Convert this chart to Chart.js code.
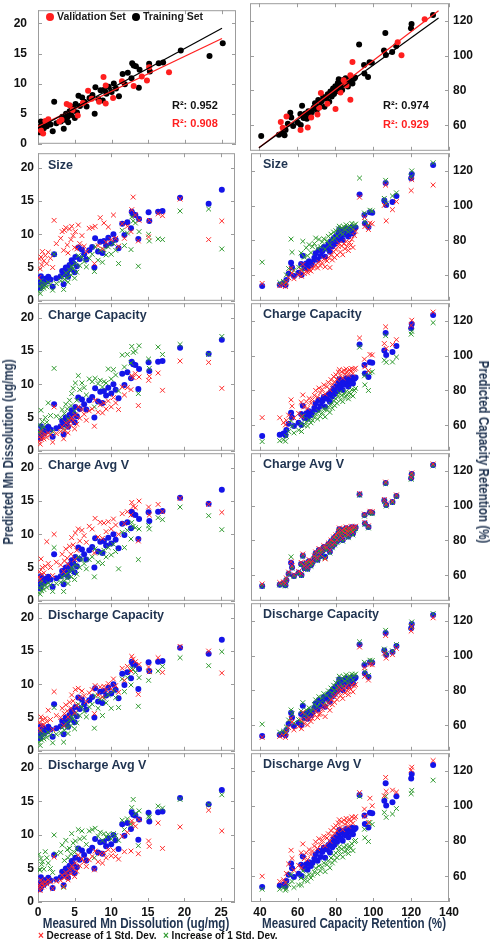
<!DOCTYPE html>
<html>
<head>
<meta charset="utf-8">
<script src="https://cdn.jsdelivr.net/npm/chart.js@4.4.1/dist/chart.umd.min.js"></script>
<style>
  body { margin: 0; background: #fff; }
  #fig { position: relative; width: 492px; height: 945px; overflow: hidden;
         font-family: "Liberation Sans", Arial, sans-serif; font-weight: bold; }
  #fig canvas { position: absolute; }
  .lbl { position: absolute; white-space: nowrap; line-height: 1; }
  .navy { color: #1f3350; }
  .ptitle { font-size: 12.5px; }
  .axtitle { font-size: 14px; }
  .dot { display: inline-block; width: 8px; height: 8px; border-radius: 50%; vertical-align: -1px; margin-right: 3px; }
</style>
</head>
<body>
<div id="fig">
  <div class="lbl" style="left:46px; top:11px; font-size:10.5px; color:#1a1a1a;"><span class="dot" style="background:#ff1f1f"></span>Validation Set</div>
  <div class="lbl" style="left:132px; top:11px; font-size:10.5px; color:#1a1a1a;"><span class="dot" style="background:#000"></span>Training Set</div>
  <div class="lbl" style="left:172px; top:100px; font-size:11px; color:#111;">R²: 0.952</div>
  <div class="lbl" style="left:172px; top:118px; font-size:11px; color:#ff1f1f;">R²: 0.908</div>
  <div class="lbl" style="left:383px; top:100px; font-size:11px; color:#111;">R²: 0.974</div>
  <div class="lbl" style="left:383px; top:119px; font-size:11px; color:#ff1f1f;">R²: 0.929</div>

  <div class="lbl navy axtitle" style="left:8px; top:452px; transform: translate(-50%,-50%) rotate(-90deg) scaleX(0.83);">Predicted Mn Dissolution (ug/mg)</div>
  <div class="lbl navy axtitle" style="left:484px; top:452px; transform: translate(-50%,-50%) rotate(90deg) scaleX(0.83);">Predicted Capacity Retention (%)</div>
  <div class="lbl navy axtitle" style="left:136px; top:923px; transform: translate(-50%,-50%) scaleX(0.83);">Measured Mn Dissolution (ug/mg)</div>
  <div class="lbl navy axtitle" style="left:354px; top:923px; transform: translate(-50%,-50%) scaleX(0.83);">Measured Capacity Retention (%)</div>

  <div class="lbl" style="left:38px; top:931px; font-size:10px; color:#111;"><span style="color:#ff2a2a">×</span> Decrease of 1 Std. Dev.</div>
  <div class="lbl" style="left:163px; top:931px; font-size:10px; color:#111;"><span style="color:#2f9a2f">×</span> Increase of 1 Std. Dev.</div>
</div>
<script>
// ---------- data: Mn dissolution (left column) ----------
const mnTrainX = [0.1,0.2,0.3,0.4,0.5,0.6,0.8,1.0,1.2,1.4, 1.7,2.0,2.2,2.5,3.1,3.3,3.5,3.6,3.8,4.0,
  4.1,4.3,4.5,4.6,4.8,5.0,5.1,5.3,5.5,5.7, 6.0,6.3,6.6,7.0,7.4,7.7,7.8,8.2,8.5,8.8,
  9.0,9.3,9.6,10.0,10.3,10.6,11.0,11.5,11.8,12.2, 12.7,12.8,13.0,13.3,13.7,13.8,15.1,15.2,16.4,17.0,
  19.4,23.3,25.1];
const mnTrainY = [2.0,2.8,1.9,3.7,2.4,3.1,2.6,3.3,2.9,3.6, 3.2,2.1,7.0,3.4,3.7,4.5,2.5,4.0,5.0,4.4,
  3.6,5.4,4.8,6.1,5.7,4.3,6.6,5.2,8.0,6.3, 7.7,7.0,6.2,7.6,8.1,5.0,9.4,7.4,8.9,7.2,
  9.0,8.3,9.5,8.6,10.0,9.2,7.9,11.6,9.9,11.8, 10.9,13.4,13.0,12.9,9.3,12.3,13.3,12.0,13.4,13.5,
  15.5,14.6,16.7];
const mnValX = [0.4,0.7,1.0,1.4,2.9,3.2,3.9,4.3,4.7,5.4,6.1,6.8,7.3,8.3,8.9,9.2,9.2,10.2,11.4,13.0,14.1,14.8,15.1,17.8];
const mnValY = [2.2,1.7,3.8,4.1,3.7,4.0,6.6,6.4,5.6,4.7,6.8,8.8,7.5,7.0,11.1,9.7,6.7,7.6,10.4,9.6,11.2,10.5,12.7,11.9];
const mnFitX = [0, 25];
const mnFitTrainY = [2.6, 19.2];
const mnFitValY = [2.9, 17.5];

// predictions after -1 / +1 std. dev. change of each feature (same order as mnTrainX)
const mnSizeDec = [3.5,6.3,4.8,6.6,5.4,7.4,6.0,6.8,5.6,7.3, 6.4,5.0,12.1,8.6,9.4,10.4,7.6,10.6,11.0,8.4,
  7.2,10.8,9.2,11.2,9.8,8.0,10.4,7.8,11.4,8.6, 9.8,8.2,7.4,10.9,11.0,5.6,11.2,8.3,12.5,7.8,
  11.7,8.8,11.1,9.2,12.9,9.4,8.2,11.6,9.4,11.2, 10.4,13.7,15.6,12.9,9.0,12.1,9.6,12.1,13.1,12.8, 15.3,9.2,12.0];
const mnSizeInc = [1.4,2.2,1.1,3.0,1.8,2.4,1.9,2.6,2.1,2.8, 2.5,1.6,7.0,2.6,3.0,3.6,1.7,3.2,4.2,3.5,
  2.8,4.6,3.9,5.2,4.8,3.4,5.6,4.3,6.8,5.3, 6.6,5.9,5.1,6.4,7.0,4.4,8.1,6.1,7.6,5.8,
  7.7,6.9,8.1,7.0,8.6,7.6,5.6,10.6,8.3,10.2, 7.7,12.6,12.0,11.7,5.2,10.4,10.0,9.0,9.3,9.2, 13.5,13.8,7.8];
const mnChgCapDec = [1.5,2.1,1.0,2.9,1.7,2.3,1.8,2.5,2.0,2.7, 2.4,1.3,6.6,2.6,2.9,3.6,1.8,3.0,4.2,3.5,
  2.7,4.5,3.8,5.0,4.6,3.3,5.4,4.0,6.6,4.9, 6.2,5.5,4.6,6.0,6.3,3.7,7.6,5.8,6.9,5.7,
  7.2,6.3,7.5,6.6,8.0,7.2,6.2,9.6,8.4,9.5, 9.2,11.3,11.0,11.6,6.8,11.1,10.6,11.2,11.7,9.1, 13.5,13.3,9.4];
const mnChgCapInc = [2.8,3.9,2.6,6.1,3.4,4.4,3.6,5.0,4.3,7.2, 5.3,2.9,12.4,5.2,5.0,6.2,3.3,5.6,7.0,6.3,
  4.8,7.6,6.8,8.6,9.4,6.0,10.2,7.6,11.3,9.2, 10.2,9.5,8.4,10.8,10.4,6.6,10.9,10.1,10.6,9.6,
  10.4,10.2,12.3,10.8,12.2,11.4,9.0,14.4,12.6,14.5, 13.2,15.7,14.8,15.0,8.6,15.8,13.8,12.4,15.6,14.5, 16.0,14.5,17.2];
const mnChgVDec = [3.6,4.4,3.2,6.3,4.0,5.0,4.2,5.2,8.9,5.6, 5.0,3.8,10.0,5.8,5.4,7.0,4.4,6.0,7.8,6.4,
  5.5,8.2,7.0,9.5,8.4,6.2,10.2,7.6,10.8,9.0, 10.6,9.8,8.8,11.2,10.8,7.2,12.4,9.6,11.8,9.4,
  11.7,10.4,11.9,10.8,12.3,11.4,10.0,13.1,11.6,13.4, 12.9,14.8,14.2,14.0,9.0,15.0,14.1,12.9,14.5,13.4, 15.4,14.5,13.3];
const mnChgVInc = [1.2,2.0,1.0,2.8,1.5,2.2,1.7,2.4,2.0,2.7, 2.4,1.4,8.0,2.6,2.8,3.6,1.4,3.0,4.0,3.4,
  2.6,4.4,3.6,5.0,4.7,3.2,5.4,4.0,6.6,5.0, 6.2,5.6,4.8,6.2,6.6,3.6,7.8,5.8,7.2,5.6,
  7.6,6.6,8.0,6.9,8.5,7.4,4.8,10.3,8.0,10.6, 9.3,11.8,11.2,11.0,6.2,10.8,11.3,10.8,12.5,12.2, 14.1,12.8,10.7];
const mnDisCapDec = [3.4,4.3,3.1,5.1,3.8,4.6,3.9,4.9,4.4,6.1, 4.7,3.2,8.9,5.3,5.0,6.4,3.8,5.6,6.9,6.0,
  5.1,7.3,6.4,8.4,7.5,5.7,9.2,6.8,9.4,8.0, 9.0,8.3,7.4,8.7,9.2,5.6,9.8,8.4,9.6,8.1,
  9.7,9.1,10.1,9.3,10.8,9.8,8.8,12.4,10.6,12.7, 12.0,14.2,13.8,13.4,8.5,13.0,12.6,11.9,14.0,11.8, 15.7,15.0,11.7];
const mnDisCapInc = [1.3,2.1,0.8,2.9,1.6,2.3,1.8,2.5,2.0,2.8, 2.4,1.2,6.5,2.5,2.7,3.5,1.3,3.1,4.1,3.5,
  2.6,4.5,3.8,5.1,4.8,3.3,5.6,4.2,7.0,5.3, 6.6,5.9,5.1,6.6,7.0,3.4,8.3,6.4,7.8,5.3,
  7.9,7.2,8.4,6.4,9.0,8.0,6.5,10.8,8.9,11.0, 9.9,12.4,12.2,11.8,6.7,11.0,10.6,11.9,12.0,12.7, 14.0,12.8,14.9];
const mnDisVDec = [2.2,2.6,1.7,3.3,2.2,2.8,2.4,3.0,2.7,3.3, 3.0,2.0,6.7,3.1,3.2,4.0,2.3,3.6,4.4,3.9,
  3.3,4.8,4.2,5.4,5.0,3.8,5.8,4.6,7.0,5.4, 6.4,6.0,5.3,6.3,6.8,4.8,7.6,6.0,7.2,5.8,
  7.3,6.6,7.8,6.9,7.7,6.8,6.4,9.8,7.5,10.4, 7.6,12.1,11.6,11.3,7.2,12.3,9.1,8.3,11.8,8.0, 11.2,13.7,10.6];
const mnDisVInc = [7.1,4.8,4.8,6.5,5.6,6.0,4.9,7.5,6.6,5.8, 5.0,4.4,10.0,7.2,7.4,8.5,2.2,6.2,9.2,7.8,
  6.6,8.0,7.2,10.2,8.8,7.4,9.1,8.0,10.8,9.4, 10.6,9.6,8.6,10.6,10.8,6.6,11.0,9.8,10.4,9.2,
  10.2,9.7,10.1,9.4,10.2,9.9,9.2,12.2,10.8,12.4, 11.6,14.1,15.3,13.2,8.4,13.6,12.8,12.6,14.3,14.0, 15.3,14.5,16.0];

// ---------- data: capacity retention (right column) ----------
const capTrainX = [41.2,50.5,52.5,53.5,54.0,55.2,56.5,57.0,58.0,60.5, 61.8,62.0,62.7,63.5,64.5,65.2,66.0,67.0,67.8,68.8,
  69.5,70.5,71.2,72.0,73.0,73.8,74.5,75.5,76.2,77.0, 77.6,78.3,79.0,79.5,80.2,80.8,81.5,82.0,82.6,83.2,
  83.8,84.4,85.0,85.6,86.2,86.8,87.4,88.0,88.6,89.2, 90.0,90.6,92.7,95.3,95.5,97.4,98.2,99.4,105.8,106.5,
  106.8,110.1,112.2,120.0,120.3,131.6];
const capTrainY = [53.8,54.6,55.2,54.2,57.3,60.8,67.2,64.5,59.5,61.4, 66.5,60.1,71.2,64.2,66.8,63.7,68.0,65.8,67.5,70.1,
  72.6,68.9,74.5,71.0,73.8,76.2,70.6,75.2,77.8,73.5, 79.4,76.5,81.2,78.0,82.4,79.6,84.3,86.4,81.8,84.8,
  80.3,86.0,83.4,87.0,84.6,82.3,86.5,85.4,87.6,84.0, 86.8,87.5,106.4,94.6,89.8,87.8,96.2,96.0,103.0,113.0,
  100.4,102.2,105.6,115.8,118.3,123.4];
const capValX = [51.5,52.5,54.5,61.9,65.7,67.5,70.8,71.7,72.6,76.0,80.3,82.9,84.6,86.0,88.1,88.1,89.2,113.0,115.0,127.2];
const capValY = [61.9,58.5,65.0,57.2,58.7,64.4,66.2,70.0,78.5,72.4,69.4,78.8,85.9,83.0,74.7,88.7,96.4,107.7,100.2,121.0];
const capFitX = [40, 134.5];
const capFitTrainY = [47.0, 121.7];
const capFitValY = [47.0, 125.8];

const capSizeDec = [55.3,54.0,54.8,53.5,56.0,58.6,64.0,61.2,58.0,60.2, 62.8,59.4,66.2,61.0,62.3,61.4,63.0,62.4,64.2,64.8,
  66.0,64.2,67.5,65.4,67.0,69.2,64.8,68.2,70.1,64.4, 71.4,68.8,73.6,70.2,74.8,71.6,76.6,78.2,73.4,76.8,
  71.8,78.0,75.2,79.4,76.6,74.2,78.8,77.2,80.6,76.0, 82.8,85.4,104.9,93.2,88.0,86.3,90.0,89.6,100.2,111.8,
  91.3,97.7,102.4,108.7,115.0,111.9];
const capSizeInc = [67.5,55.8,56.4,55.6,60.2,63.8,80.8,73.2,62.8,64.6, 72.8,63.4,79.5,70.4,75.8,71.2,77.6,73.0,76.4,78.2,
  81.4,75.6,80.6,76.4,79.2,81.0,75.0,79.8,82.4,77.6, 83.6,80.4,84.8,81.2,85.6,82.6,86.8,88.2,84.4,87.2,
  83.6,88.0,86.2,89.0,87.2,85.0,88.6,87.6,89.8,86.4, 88.8,89.4,115.9,95.8,91.0,88.6,97.4,97.0,104.2,114.6,
  101.4,105.6,107.4,116.8,120.0,124.7];
const capChgCapDec = [64.4,64.3,61.5,60.2,62.8,65.8,74.6,71.0,64.2,66.8, 73.2,65.0,77.4,70.6,73.6,69.8,75.4,72.6,74.8,77.2,
  80.0,76.2,81.4,78.6,80.6,83.2,78.0,82.2,84.6,80.4, 86.2,83.4,88.0,85.0,89.0,86.4,90.6,92.0,88.4,90.8,
  87.2,91.6,89.6,92.4,90.6,88.8,92.0,91.0,92.6,89.8, 92.2,92.8,110.2,98.0,93.6,91.4,100.7,100.4,107.0,116.6,
  104.2,106.4,109.2,117.4,120.4,125.1];
const capChgCapInc = [50.6,51.1,51.6,50.8,53.6,56.4,62.6,59.4,55.6,57.2, 61.0,56.4,65.4,59.8,62.0,59.6,63.2,61.4,62.8,64.6,
  66.4,63.6,67.8,65.0,67.2,69.4,64.8,68.6,70.6,67.4, 72.0,69.8,74.0,71.4,75.2,72.6,76.8,78.6,74.6,77.2,
  73.6,78.0,76.0,79.4,77.4,75.2,78.8,77.8,80.4,76.8, 80.0,81.2,104.9,88.4,83.2,80.0,90.2,90.7,97.4,111.5,
  96.2,96.4,99.2,112.4,114.0,119.0];
const capChgVDec = [55.0,55.8,56.2,55.4,58.4,61.8,67.8,65.4,60.4,62.2, 67.4,61.0,72.2,65.2,67.6,64.6,69.0,66.8,68.4,71.0,
  73.4,69.8,75.4,72.0,74.6,77.0,69.4,76.0,78.6,74.4, 80.2,77.4,82.0,78.8,83.2,80.4,85.0,87.2,82.6,85.6,
  81.2,86.8,84.2,87.8,85.4,83.2,87.2,86.2,88.2,84.8, 87.6,88.2,107.0,95.2,90.4,88.4,96.8,96.6,103.6,113.6,
  101.0,102.6,106.2,116.4,118.8,124.0];
const capChgVInc = [53.6,54.4,55.0,53.8,57.0,60.4,70.6,64.0,59.2,61.0, 66.0,59.8,70.8,63.8,66.4,63.2,67.6,65.2,67.0,69.6,
  72.0,68.4,74.0,70.4,73.2,75.6,70.0,74.6,77.2,72.8, 78.8,75.8,80.6,77.4,81.8,78.8,83.6,85.8,81.0,84.0,
  79.6,85.4,82.6,86.4,83.8,81.6,85.8,84.6,86.8,83.2, 86.0,86.8,106.0,94.0,89.2,87.2,95.6,95.4,102.4,112.6,
  99.8,101.8,105.2,115.2,117.8,123.0];
const capDisCapDec = [53.0,53.6,54.2,53.0,55.8,58.6,64.0,61.8,57.4,59.2, 63.2,58.0,67.4,61.0,63.4,60.2,64.4,62.2,63.8,66.0,
  68.2,64.4,66.2,66.6,69.0,71.4,65.0,70.4,72.8,68.6, 74.6,71.8,76.4,73.2,77.6,74.8,79.4,81.8,77.0,80.2,
  75.4,81.2,78.6,82.4,79.8,77.6,81.8,80.6,83.0,79.2, 82.6,83.4,105.0,93.0,88.2,86.0,95.0,94.8,101.4,111.6,
  98.6,100.6,104.2,114.2,116.8,121.8];
const capDisCapInc = [60.6,56.0,56.6,55.8,59.0,63.0,68.8,66.6,61.2,63.2, 68.2,62.0,73.0,66.2,68.8,65.6,70.0,67.8,69.4,72.0,
  74.6,70.8,76.4,73.0,75.8,78.2,72.6,77.2,79.8,75.4, 81.4,78.4,83.0,80.0,84.4,81.6,86.2,88.2,83.8,86.8,
  82.4,88.0,85.4,89.0,86.6,84.4,88.4,87.4,89.4,86.0, 88.8,89.4,108.0,96.2,91.0,88.6,97.4,97.2,103.8,114.6,
  101.2,102.8,106.4,116.6,119.4,124.2];
const capDisVDec = [60.0,57.0,58.0,56.2,61.6,67.0,74.8,70.2,63.4,66.2, 73.4,64.8,78.4,70.0,73.4,69.6,75.2,72.4,74.4,77.2,
  79.6,75.8,81.4,78.0,80.4,82.8,77.4,81.8,84.2,80.0, 86.0,83.0,87.6,84.6,88.8,86.0,90.4,92.2,88.0,91.0,
  86.6,92.0,89.6,93.0,90.8,88.6,92.6,91.4,93.8,90.2, 93.2,94.0,107.7,98.3,94.2,90.6,104.5,100.2,105.9,116.4,
  108.4,109.1,108.0,120.6,122.2,126.0];
const capDisVInc = [52.6,52.6,53.4,52.0,52.8,55.2,61.0,57.0,53.6,55.0, 59.0,55.0,63.0,57.6,59.8,57.2,61.0,59.0,60.6,62.4,
  64.6,61.6,65.8,63.0,65.2,67.6,62.6,66.6,68.8,64.8, 70.4,67.6,72.0,69.2,73.2,70.6,74.8,76.8,72.4,75.4,
  71.0,76.4,74.0,77.6,75.4,73.0,77.2,76.0,78.6,74.6, 79.8,80.4,105.6,86.8,81.9,79.8,90.7,89.6,96.4,105.6,
  93.6,95.5,98.6,107.1,109.0,114.8];

// ---------- tick labels ----------
const mnTicks = [0, 5, 10, 15, 20, 25];
const mnPredTicks = [0, 5, 10, 15, 20];
const capTicks = [40, 60, 80, 100, 120, 140];
const capPredTicks = [60, 80, 100, 120];

const panelNames = ['Size', 'Charge Capacity', 'Charge Avg V', 'Discharge Capacity', 'Discharge Avg V'];
const mnDecrease = [mnSizeDec, mnChgCapDec, mnChgVDec, mnDisCapDec, mnDisVDec];
const mnIncrease = [mnSizeInc, mnChgCapInc, mnChgVInc, mnDisCapInc, mnDisVInc];
const capDecrease = [capSizeDec, capChgCapDec, capChgVDec, capDisCapDec, capDisVDec];
const capIncrease = [capSizeInc, capChgCapInc, capChgVInc, capDisCapInc, capDisVInc];

// ---------- drawing ----------
const fig = document.getElementById('fig');
const PAD = 10;
const tickFont = { family: '"Liberation Sans", Arial, sans-serif', size: 12, weight: 'bold' };

// grey frame with small inward tick marks on every side
const frameTicks = {
    id: 'frameTicks',
    beforeDatasetsDraw(chart, args, opts) {
        const { ctx, chartArea: a, scales } = chart;
        ctx.save();
        ctx.strokeStyle = '#9c9c9c';
        ctx.lineWidth = 1;
        ctx.beginPath();
        opts.xTicks.forEach(v => {
            const px = Math.round(scales.x.getPixelForValue(v)) + 0.5;
            ctx.moveTo(px, a.top); ctx.lineTo(px, a.top + 4);
            ctx.moveTo(px, a.bottom); ctx.lineTo(px, a.bottom - 4);
        });
        opts.yTicks.forEach(v => {
            const py = Math.round(scales.y.getPixelForValue(v)) + 0.5;
            ctx.moveTo(a.left, py); ctx.lineTo(a.left + 4, py);
            ctx.moveTo(a.right, py); ctx.lineTo(a.right - 4, py);
        });
        ctx.stroke();
        ctx.strokeRect(a.left + 0.5, a.top + 0.5, a.width - 1, a.height - 1);
        ctx.restore();
    }
};

function pts(xs, ys) {
    return xs.map((x, i) => ({ x: x, y: ys[i] }));
}

function dots(xs, ys, color, order) {
    return { data: pts(xs, ys), pointStyle: 'circle', pointRadius: 3, borderWidth: 0,
             backgroundColor: color, borderColor: color, order: order };
}

function crosses(xs, ys, color, order) {
    return { data: pts(xs, ys), pointStyle: 'crossRot', pointRadius: 3.4, borderWidth: 1,
             backgroundColor: color, borderColor: color, order: order };
}

function fitLine(xs, ys, color) {
    return { data: pts(xs, ys), showLine: true, pointRadius: 0, borderWidth: 1.2,
             borderColor: color, backgroundColor: color, order: 0 };
}

function makePanel(col, row, datasets) {
    const isLeft = col === 0;
    const isBottom = row === 5;
    const cv = document.createElement('canvas');
    cv.width = isLeft ? 232 : 235;
    cv.height = 150 + PAD + (isBottom ? 22 : PAD);
    cv.style.left = (isLeft ? 8 : 246) + 'px';
    cv.style.top = (2 + 150 * row - PAD) + 'px';
    fig.insertBefore(cv, fig.firstChild);

    const xTicks = isLeft ? mnTicks : capTicks;
    const yTicks = isLeft ? mnPredTicks : capPredTicks;
    // the top-left panel has its numbers set a little further from the frame
    const yPad = isLeft ? (row === 0 ? 11 : 4) : 4;

    return new Chart(cv, {
        type: 'scatter',
        data: { datasets: datasets },
        plugins: [frameTicks],
        options: {
            responsive: false,
            animation: false,
            devicePixelRatio: 1,
            events: [],
            layout: { padding: { left: isLeft ? 0 : 2, right: isLeft ? 2 : 0, top: PAD, bottom: isBottom ? 0 : PAD } },
            plugins: {
                legend: { display: false },
                tooltip: { enabled: false },
                frameTicks: { xTicks: xTicks, yTicks: yTicks }
            },
            scales: {
                x: {
                    type: 'linear',
                    display: isBottom,
                    min: isLeft ? 0 : 35.3,
                    max: isLeft ? 26.9 : 140,
                    afterBuildTicks: s => { s.ticks = xTicks.map(v => ({ value: v })); },
                    afterFit: s => { s.height = isBottom ? 22 : 0; },
                    grid: { display: false, drawTicks: false },
                    border: { display: false },
                    ticks: { font: tickFont, color: '#111', padding: 3, maxRotation: 0, autoSkip: false }
                },
                y: {
                    type: 'linear',
                    position: isLeft ? 'left' : 'right',
                    min: isLeft ? 0 : 45.3,
                    max: isLeft ? 22.2 : 130.2,
                    afterBuildTicks: s => { s.ticks = yTicks.map(v => ({ value: v })); },
                    afterFit: s => { s.width = isLeft ? 30 : 32; },
                    grid: { display: false, drawTicks: false },
                    border: { display: false },
                    ticks: { font: tickFont, color: '#111', padding: yPad, autoSkip: false }
                }
            }
        }
    });
}

// top row: parity plots with fitted lines
makePanel(0, 0, [
    fitLine(mnFitX, mnFitTrainY, '#000000'),
    fitLine(mnFitX, mnFitValY, '#ff1f1f'),
    dots(mnValX, mnValY, '#ff1f1f', 1),
    dots(mnTrainX, mnTrainY, '#000000', 2)
]);
makePanel(1, 0, [
    fitLine(capFitX, capFitTrainY, '#000000'),
    fitLine(capFitX, capFitValY, '#ff1f1f'),
    dots(capValX, capValY, '#ff1f1f', 1),
    dots(capTrainX, capTrainY, '#000000', 2)
]);

// sensitivity rows
panelNames.forEach((name, i) => {
    const row = i + 1;
    makePanel(0, row, [
        crosses(mnTrainX, mnDecrease[i], '#ff2a2a', 1),
        crosses(mnTrainX, mnIncrease[i], '#2f9a2f', 2),
        dots(mnTrainX, mnTrainY, '#1414e8', 3)
    ]);
    makePanel(1, row, [
        crosses(capTrainX, capDecrease[i], '#ff2a2a', 1),
        crosses(capTrainX, capIncrease[i], '#2f9a2f', 2),
        dots(capTrainX, capTrainY, '#1414e8', 3)
    ]);

    [[48, 159], [263, 158]].forEach(([left, top]) => {
        const t = document.createElement('div');
        t.className = 'lbl navy ptitle';
        t.style.left = left + 'px';
        t.style.top = (top + 150 * (row - 1)) + 'px';
        t.textContent = name;
        fig.appendChild(t);
    });
});
</script>
</body>
</html>
